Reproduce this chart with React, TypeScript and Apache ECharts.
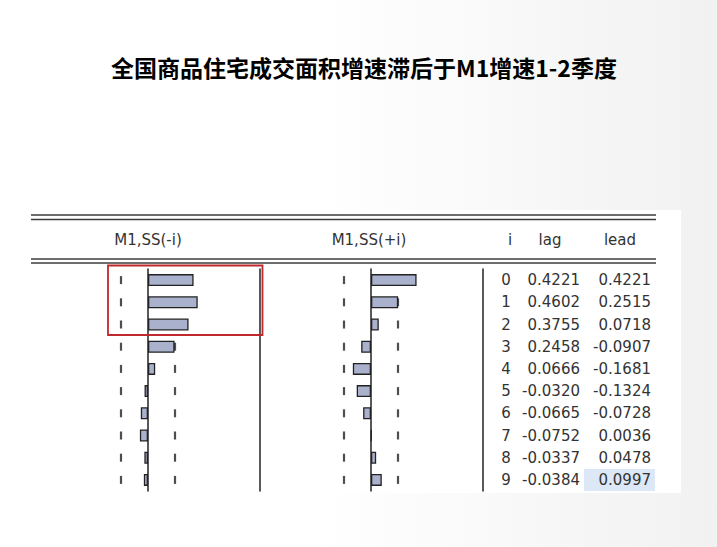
import { useEffect, useRef } from 'react'
import * as echarts from 'echarts'

// 交叉相关：M1 与 商品住宅成交面积增速
const lags = ['0', '1', '2', '3', '4', '5', '6', '7', '8', '9']
const lagValues = [0.4221, 0.4602, 0.3755, 0.2458, 0.0666, -0.032, -0.0665, -0.0752, -0.0337, -0.0384]
const leadValues = [0.4221, 0.2515, 0.0718, -0.0907, -0.1681, -0.1324, -0.0728, 0.0036, 0.0478, 0.0997]
const band = 0.25
const panelTitles = ['M1,SS(-i)', 'M1,SS(+i)']
const tableHeads = ['i', 'lag', 'lead']
const highlightRow = 9
const title = '全国商品住宅成交面积增速滞后于M1增速1-2季度'

const FONT = 'DejaVu Sans'
const TXT = '#333'

const fmt = (v: number) => v.toFixed(4)

export default function App() {
  const chartRef = useRef<HTMLDivElement>(null)

  useEffect(() => {
    document.body.style.margin = '0'
    if (!chartRef.current) return
    const chart = echarts.init(chartRef.current, undefined, { renderer: 'svg' })

    const dashData = lags.flatMap((_, i) => [[-band, i], [band, i]])
    const rule = (y: number) => ({
      type: 'line',
      z: -5,
      shape: { x1: 31, y1: y, x2: 656, y2: y },
      style: { stroke: '#3c3c3c', lineWidth: 1.6 },
    })
    const headText = (text: string, x: number) => ({
      type: 'text',
      x,
      y: 240,
      z: 5,
      style: { text, align: 'center', verticalAlign: 'middle', font: `15px "${FONT}"`, fill: TXT },
    })

    const mainY = (gridIndex: number) => ({
      type: 'category',
      gridIndex,
      data: lags,
      inverse: true,
      axisLine: { show: true, onZero: true, lineStyle: { color: '#222', width: 1.5 } },
      axisTick: { show: false },
      axisLabel: { show: false },
      splitLine: { show: false },
    })

    const cell = { fontFamily: FONT, fontSize: 15, color: TXT }

    chart.setOption({
      animation: false,
      graphic: [
        { type: 'rect', z: -10, shape: { x: 28, y: 210, width: 653, height: 283 }, style: { fill: '#ffffff' } },
        rule(215),
        rule(219.5),
        rule(259),
        rule(263),
        headText(panelTitles[0], 148),
        headText(panelTitles[1], 369),
        headText(tableHeads[0], 510),
        headText(tableHeads[1], 550),
        headText(tableHeads[2], 620),
        {
          type: 'text',
          x: 364,
          y: 67,
          style: {
            text: title,
            align: 'center',
            verticalAlign: 'middle',
            font: `bold 23px "Noto Sans CJK SC"`,
            fill: '#000',
          },
        },
        {
          type: 'rect',
          z: 100,
          shape: { x: 108, y: 265.5, width: 154.5, height: 69.5 },
          style: { fill: 'none', stroke: '#c0282d', lineWidth: 1.8 },
        },
      ],
      grid: [
        { left: 40, top: 269, width: 220, height: 222 },
        { left: 263, top: 269, width: 220, height: 222 },
      ],
      xAxis: [0, 1].map(gridIndex => ({
        type: 'value',
        gridIndex,
        min: -1,
        max: 1.037,
        axisLine: { show: false },
        axisTick: { show: false },
        axisLabel: { show: false },
        splitLine: { show: false },
      })),
      yAxis: [
        mainY(0),
        {
          type: 'category',
          gridIndex: 0,
          position: 'right',
          data: lags,
          inverse: true,
          axisLine: { show: true, onZero: false, lineStyle: { color: '#222', width: 1.5 } },
          axisTick: { show: false },
          axisLabel: { show: false },
        },
        mainY(1),
        {
          type: 'category',
          gridIndex: 1,
          position: 'right',
          data: lags,
          inverse: true,
          axisLine: { show: true, onZero: false, lineStyle: { color: '#222', width: 1.5 } },
          axisTick: { show: false },
          axisLabel: {
            show: true,
            interval: 0,
            margin: 13,
            formatter: (v: string, idx: number) =>
              `{i|${v}}{lag|${fmt(lagValues[idx])}}{${idx === highlightRow ? 'hl' : 'lead'}|${fmt(leadValues[idx])}}`,
            rich: {
              i: { ...cell, width: 20, align: 'center' },
              lag: { ...cell, width: 64, align: 'right', padding: [0, 4, 0, 0] },
              lead: { ...cell, width: 67, align: 'right', padding: [0, 4, 0, 0] },
              hl: {
                ...cell,
                width: 67,
                height: 22,
                align: 'right',
                padding: [0, 4, 0, 0],
                backgroundColor: '#dce8f6',
              },
            },
          },
        },
      ],
      series: [
        {
          type: 'bar',
          xAxisIndex: 0,
          yAxisIndex: 0,
          data: lagValues,
          barWidth: 12,
          z: 3,
          itemStyle: { color: '#a9b1cd', borderColor: '#222', borderWidth: 1.3 },
        },
        {
          type: 'scatter',
          xAxisIndex: 0,
          yAxisIndex: 0,
          data: dashData,
          symbol: 'rect',
          symbolSize: [2.2, 8],
          z: 2,
          itemStyle: { color: '#222' },
        },
        {
          type: 'bar',
          xAxisIndex: 1,
          yAxisIndex: 2,
          data: leadValues,
          barWidth: 12,
          z: 3,
          itemStyle: { color: '#a9b1cd', borderColor: '#222', borderWidth: 1.3 },
        },
        {
          type: 'scatter',
          xAxisIndex: 1,
          yAxisIndex: 2,
          data: dashData,
          symbol: 'rect',
          symbolSize: [2.2, 8],
          z: 2,
          itemStyle: { color: '#222' },
        },
      ],
    })

    return () => chart.dispose()
  }, [])

  return (
    <div
      ref={chartRef}
      style={{
        width: 717,
        height: 547,
        background: 'linear-gradient(90deg, #ffffff 0%, #ffffff 45%, #f1f1f1 100%)',
      }}
    />
  )
}
